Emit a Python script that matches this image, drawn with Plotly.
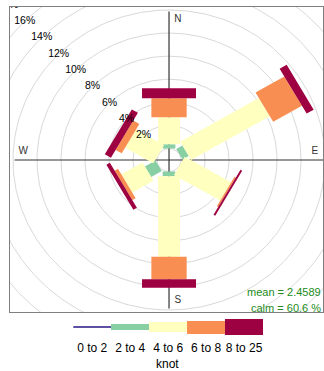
import numpy as np
import plotly.graph_objects as go

# Wind rose: frequency (%) of each wind-speed class per direction sector
directions = [0, 60, 120, 180, 240, 300]          # degrees from north
speed_classes = ["0 to 2", "2 to 4", "4 to 6", "6 to 8", "8 to 25"]
freq_0_2 = [0.0, 0.0, 0.0, 0.0, 0.0, 0.0]
freq_2_4 = [0.36, 0.60, 0.0, 0.41, 1.02, 0.0]
freq_4_6 = [2.34, 7.57, 4.45, 6.97, 2.04, 2.70]
freq_6_8 = [1.65, 2.77, 0.13, 1.96, 0.33, 0.59]
freq_8_25 = [0.86, 0.68, 0.16, 0.73, 0.34, 0.59]
ring_values = [2, 4, 6, 8, 10, 12, 14, 16, 18]
compass_labels = ["N", "E", "S", "W"]
mean_speed = 2.4589
calm_percent = 60.6
speed_unit = "knot"

# Styling
class_colors = ["#5E4FA2", "#88CFA4", "#FFFFBF", "#F88E52", "#9E0142"]
paddle_half_width = [0.28, 0.53, 0.91, 1.47, 2.25]
legend_key_height = [2, 6.5, 10, 13, 16]
calm_offset = 1.0          # radius of the calm circle
axis_extent = 12.87        # half-length of the cross hair lines
label_angle = 315          # bearing of the ring labels
font_family = "Liberation Sans, Arial, sans-serif"

freqs = [freq_0_2, freq_2_4, freq_4_6, freq_6_8, freq_8_25]

fig = go.Figure()

# reference rings (the innermost one is the calm circle)
theta = np.linspace(0, 2 * np.pi, 361)
ring_x, ring_y = [], []
for r in [calm_offset] + [calm_offset + v for v in ring_values]:
    ring_x += list(r * np.sin(theta)) + [None]
    ring_y += list(r * np.cos(theta)) + [None]
fig.add_trace(go.Scatter(x=ring_x, y=ring_y, mode="lines",
                         line=dict(color="#D9D9D9", width=1),
                         hoverinfo="skip", showlegend=False))

# cross hair
fig.add_trace(go.Scatter(x=[-axis_extent, axis_extent, None, 0, 0],
                         y=[0, 0, None, -axis_extent, axis_extent],
                         mode="lines", line=dict(color="#333333", width=1.2),
                         hoverinfo="skip", showlegend=False))

# stacked paddles, one polygon per direction and speed class
for k, (vals, color, hw) in enumerate(zip(freqs, class_colors, paddle_half_width)):
    xs, ys = [], []
    for i, d in enumerate(directions):
        if vals[i] <= 0:
            continue
        start = calm_offset + sum(f[i] for f in freqs[:k])
        end = start + vals[i]
        a = np.radians(d)
        ux, uy = np.sin(a), np.cos(a)
        px, py = np.cos(a), -np.sin(a)
        pts = [(start * ux + hw * px, start * uy + hw * py),
               (end * ux + hw * px, end * uy + hw * py),
               (end * ux - hw * px, end * uy - hw * py),
               (start * ux - hw * px, start * uy - hw * py)]
        pts.append(pts[0])
        xs += [p[0] for p in pts] + [None]
        ys += [p[1] for p in pts] + [None]
    if xs:
        fig.add_trace(go.Scatter(x=xs, y=ys, mode="lines", fill="toself",
                                 fillcolor=color, line=dict(width=0, color=color),
                                 hoverinfo="skip", showlegend=False))

# ring labels
la = np.radians(label_angle)
fig.add_trace(go.Scatter(
    x=[(calm_offset + v) * np.sin(la) for v in ring_values],
    y=[(calm_offset + v) * np.cos(la) for v in ring_values],
    mode="text", text=[f"{v}%" for v in ring_values],
    textfont=dict(size=10.5, color="black", family=font_family),
    cliponaxis=True, hoverinfo="skip", showlegend=False))

# compass letters
cr, cs = 12.15, 0.74
fig.add_trace(go.Scatter(
    x=[cs, cr, cs, -cr], y=[cr, cs, -cr, cs],
    mode="text", text=compass_labels,
    textfont=dict(size=10, color="#333333", family=font_family),
    hoverinfo="skip", showlegend=False))

# colour key
fig.add_trace(go.Bar(x=list(range(len(speed_classes))), y=legend_key_height,
                     base=[-h / 2 for h in legend_key_height],
                     marker=dict(color=class_colors, line=dict(width=0)),
                     width=1, xaxis="x2", yaxis="y2",
                     hoverinfo="skip", showlegend=False))

W, H = 324, 371
fig.add_annotation(x=323 / W, y=1 - 284 / H, xref="paper", yref="paper",
                   xanchor="right", yanchor="top", showarrow=False,
                   text=f"mean = {mean_speed}",
                   font=dict(size=11, color="#228B22", family=font_family))
fig.add_annotation(x=323 / W, y=1 - 299.5 / H, xref="paper", yref="paper",
                   xanchor="right", yanchor="top", showarrow=False,
                   text=f"calm = {calm_percent} %",
                   font=dict(size=11, color="#228B22", family=font_family))
fig.add_annotation(x=167 / W, y=1 - 355 / H, xref="paper", yref="paper",
                   xanchor="center", yanchor="top", showarrow=False,
                   text=speed_unit,
                   font=dict(size=12, color="black", family=font_family))

hidden = dict(showgrid=False, zeroline=False, showticklabels=False, ticks="")
fig.update_layout(
    width=W, height=H, margin=dict(l=0, r=0, t=0, b=0),
    paper_bgcolor="white", plot_bgcolor="white", showlegend=False,
    font=dict(family=font_family, color="black"),
    xaxis=dict(domain=[10 / W, 323 / W], range=[-13.25, 12.83],
               showline=True, mirror=True, linecolor="#7F7F7F", linewidth=1,
               **hidden),
    yaxis=dict(domain=[1 - 312 / H, 1 - 7 / H], range=[-13.17, 13.26],
               showline=True, mirror=True, linecolor="#7F7F7F", linewidth=1,
               **hidden),
    xaxis2=dict(domain=[73.3 / W, 263 / W], anchor="y2", range=[-0.5, 4.5],
                tickvals=list(range(len(speed_classes))), ticktext=speed_classes,
                tickfont=dict(size=12, color="black", family=font_family),
                ticklabelstandoff=2,
                showgrid=False, zeroline=False, showline=False, ticks=""),
    yaxis2=dict(domain=[1 - 337 / H, 1 - 317 / H], anchor="x2", range=[-10, 10],
                visible=False),
    bargap=0,
)

fig.write_html("out.html")
